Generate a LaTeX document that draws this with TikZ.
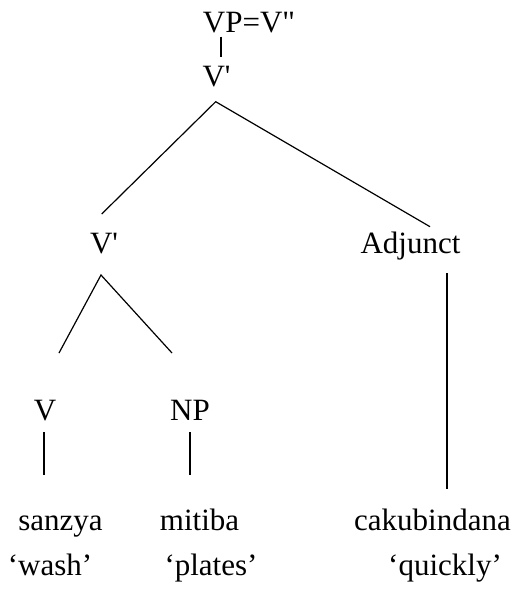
\documentclass[tikz,border=0pt]{standalone}
\usepackage{fontspec}
% plain family: no TeX ligature mapping, so ' and " stay straight
\newfontfamily\treefont{Liberation Serif}
\begin{document}
\begin{tikzpicture}[x=1pt,y=-1pt,
  lbl/.style={anchor=base,inner sep=0pt,font=\treefont\fontsize{31}{37}\selectfont},
  branch/.style={line width=1.2pt,line cap=butt,line join=miter}]
\useasboundingbox (0,0) rectangle (520,596);

% category labels
\node[lbl] (vp)  at (249,33)   {VP=V"};
\node[lbl] (vbt) at (216.5,87) {V'};
\node[lbl] (vbl) at (104,253)  {V'};
\node[lbl] (adj) at (410.5,253){Adjunct};
\node[lbl] (v)   at (45,420)   {V};
\node[lbl] (np)  at (190,420)  {NP};

% words and glosses
\node[lbl] (w1) at (60.5,530)  {sanzya};
\node[lbl] (w2) at (199.5,530) {mitiba};
\node[lbl] (w3) at (432.5,530) {cakubindana};
\node[lbl] (g1) at (50,575)    {‘wash’};
\node[lbl] (g2) at (211,575)   {‘plates’};
\node[lbl] (g3) at (445,575)   {‘quickly’};

% branch end points
\coordinate (vpB)   at (221,36.7);
\coordinate (vbtT)  at (221,57);
\coordinate (topA)  at (215.7,101.7);
\coordinate (topL)  at (101.7,214);
\coordinate (topR)  at (430,226.7);
\coordinate (lowA)  at (101,275);
\coordinate (lowL)  at (59,353);
\coordinate (lowR)  at (172,353);
\coordinate (vB)    at (44,432);
\coordinate (vW)    at (44,475);
\coordinate (npB)   at (190,432);
\coordinate (npW)   at (190,475);
\coordinate (adjB)  at (447,273);
\coordinate (adjW)  at (447,489);

% branches
\draw[branch] (vpB) -- (vbtT);
\draw[branch] (topL) -- (topA) -- (topR);
\draw[branch] (lowL) -- (lowA) -- (lowR);
\draw[branch] (vB) -- (vW);
\draw[branch] (npB) -- (npW);
\draw[branch] (adjB) -- (adjW);
\end{tikzpicture}
\end{document}
